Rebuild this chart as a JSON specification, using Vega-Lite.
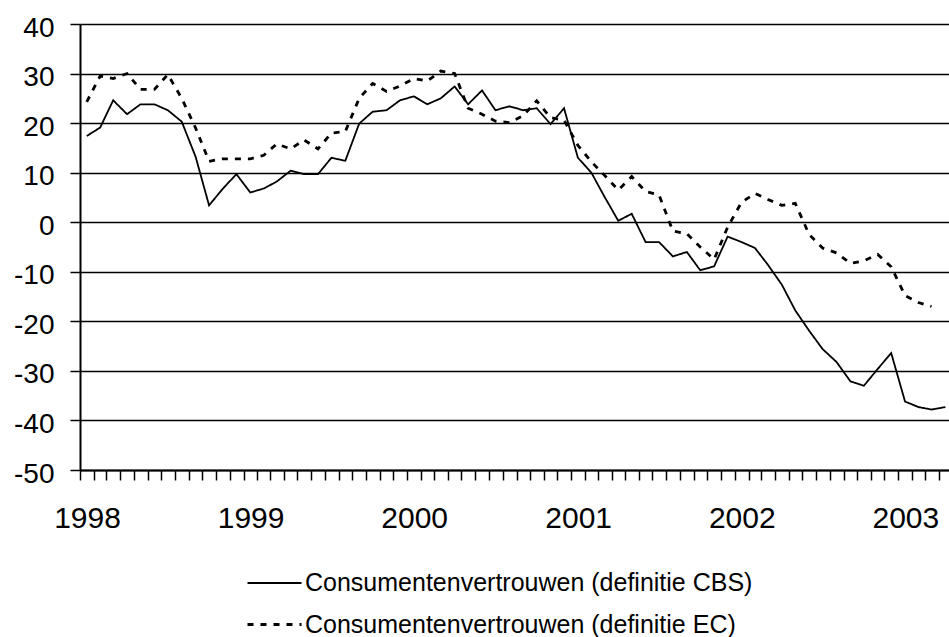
{
  "$schema": "https://vega.github.io/schema/vega-lite/v6.json",
  "width": 869,
  "height": 446,
  "autosize": "none",
  "padding": {"left": 80, "top": 24, "right": 0, "bottom": 167},
  "background": "white",
  "config": {"view": {"stroke": null}, "font": "Liberation Sans"},
  "data": {"values": [
    {"date": "1998-01-16", "CBS": 17.4, "EC": 24.3},
    {"date": "1998-02-15", "CBS": 19.1, "EC": 29.5},
    {"date": "1998-03-16", "CBS": 24.6, "EC": 29.0},
    {"date": "1998-04-16", "CBS": 21.8, "EC": 30.0},
    {"date": "1998-05-16", "CBS": 23.8, "EC": 26.8},
    {"date": "1998-06-16", "CBS": 23.8, "EC": 26.8},
    {"date": "1998-07-16", "CBS": 22.6, "EC": 29.8},
    {"date": "1998-08-16", "CBS": 20.3, "EC": 25.0},
    {"date": "1998-09-16", "CBS": 13.2, "EC": 19.0},
    {"date": "1998-10-16", "CBS": 3.4, "EC": 12.3},
    {"date": "1998-11-16", "CBS": 6.8, "EC": 12.8},
    {"date": "1998-12-16", "CBS": 9.7, "EC": 12.8},
    {"date": "1999-01-16", "CBS": 6.0, "EC": 12.8},
    {"date": "1999-02-15", "CBS": 6.8, "EC": 13.5},
    {"date": "1999-03-16", "CBS": 8.2, "EC": 15.8},
    {"date": "1999-04-16", "CBS": 10.4, "EC": 14.8},
    {"date": "1999-05-16", "CBS": 9.7, "EC": 16.6},
    {"date": "1999-06-16", "CBS": 9.7, "EC": 14.8},
    {"date": "1999-07-16", "CBS": 13.0, "EC": 18.0},
    {"date": "1999-08-16", "CBS": 12.4, "EC": 18.3},
    {"date": "1999-09-16", "CBS": 19.9, "EC": 25.0},
    {"date": "1999-10-16", "CBS": 22.3, "EC": 28.0},
    {"date": "1999-11-16", "CBS": 22.6, "EC": 26.4},
    {"date": "1999-12-16", "CBS": 24.6, "EC": 27.5},
    {"date": "2000-01-16", "CBS": 25.4, "EC": 29.0},
    {"date": "2000-02-15", "CBS": 23.8, "EC": 28.5},
    {"date": "2000-03-16", "CBS": 25.0, "EC": 30.5},
    {"date": "2000-04-16", "CBS": 27.4, "EC": 30.0},
    {"date": "2000-05-16", "CBS": 23.8, "EC": 23.0},
    {"date": "2000-06-16", "CBS": 26.6, "EC": 21.8},
    {"date": "2000-07-16", "CBS": 22.6, "EC": 20.4},
    {"date": "2000-08-16", "CBS": 23.4, "EC": 20.1},
    {"date": "2000-09-16", "CBS": 22.6, "EC": 21.5},
    {"date": "2000-10-16", "CBS": 23.0, "EC": 24.5},
    {"date": "2000-11-16", "CBS": 19.8, "EC": 21.1},
    {"date": "2000-12-16", "CBS": 23.0, "EC": 20.6},
    {"date": "2001-01-16", "CBS": 13.0, "EC": 15.5},
    {"date": "2001-02-15", "CBS": 10.0, "EC": 12.2},
    {"date": "2001-03-16", "CBS": 5.2, "EC": 9.5},
    {"date": "2001-04-16", "CBS": 0.3, "EC": 6.5},
    {"date": "2001-05-16", "CBS": 1.7, "EC": 9.2},
    {"date": "2001-06-16", "CBS": -4.0, "EC": 6.2},
    {"date": "2001-07-16", "CBS": -4.0, "EC": 5.5},
    {"date": "2001-08-16", "CBS": -6.9, "EC": -1.8},
    {"date": "2001-09-16", "CBS": -6.0, "EC": -2.3},
    {"date": "2001-10-16", "CBS": -9.7, "EC": -5.0},
    {"date": "2001-11-16", "CBS": -8.9, "EC": -7.5},
    {"date": "2001-12-16", "CBS": -2.9, "EC": -1.0},
    {"date": "2002-01-16", "CBS": -4.0, "EC": 4.0},
    {"date": "2002-02-15", "CBS": -5.2, "EC": 5.8},
    {"date": "2002-03-16", "CBS": -8.6, "EC": 4.6},
    {"date": "2002-04-16", "CBS": -12.6, "EC": 3.4},
    {"date": "2002-05-16", "CBS": -17.8, "EC": 3.8},
    {"date": "2002-06-16", "CBS": -21.9, "EC": -2.5},
    {"date": "2002-07-16", "CBS": -25.6, "EC": -5.2},
    {"date": "2002-08-16", "CBS": -28.2, "EC": -6.2},
    {"date": "2002-09-16", "CBS": -32.1, "EC": -8.3},
    {"date": "2002-10-16", "CBS": -33.0, "EC": -7.8},
    {"date": "2002-11-16", "CBS": -29.6, "EC": -6.5},
    {"date": "2002-12-16", "CBS": -26.4, "EC": -9.0},
    {"date": "2003-01-16", "CBS": -36.2, "EC": -14.8},
    {"date": "2003-02-15", "CBS": -37.3, "EC": -16.2},
    {"date": "2003-03-16", "CBS": -37.8, "EC": -17.0},
    {"date": "2003-04-16", "CBS": -37.3, "EC": null}
  ]},
  "transform": [{"fold": ["CBS", "EC"], "as": ["series", "value"]}],
  "mark": {"type": "line", "color": "black", "clip": true},
  "encoding": {
    "x": {
      "field": "date", "type": "temporal",
      "scale": {"type": "utc", "nice": false, "domain": [{"year": 1998, "month": 1, "date": 1, "utc": true}, {"year": 2003, "month": 4, "date": 24, "utc": true}]},
      "axis": {
        "title": null, "grid": false,
        "tickCount": {"interval": "month", "step": 1},
        "labelExpr": "utcmonth(datum.value) == 0 ? utcFormat(datum.value, '%Y') : ''",
        "labelOffset": 7, "labelFlush": false, "labelOverlap": false, "labelBound": false,
        "labelFontSize": 30, "labelColor": "black", "labelPadding": 23,
        "tickSize": 10, "tickColor": "black", "tickWidth": 1.5,
        "domainColor": "black", "domainWidth": 2
      }
    },
    "y": {
      "field": "value", "type": "quantitative",
      "scale": {"domain": [-50, 40], "nice": false},
      "axis": {
        "title": null, "values": [-50, -40, -30, -20, -10, 0, 10, 20, 30, 40],
        "labelExpr": "toString(datum.value)",
        "grid": true, "gridColor": "black", "gridWidth": 1.5, "gridOpacity": 1,
        "tickSize": 10, "tickColor": "black", "tickWidth": 1.5,
        "domainColor": "black", "domainWidth": 2,
        "labelFontSize": 28, "labelColor": "black", "labelPadding": 16, "labelOffset": 4
      }
    },
    "strokeDash": {
      "field": "series", "type": "nominal",
      "scale": {"domain": ["CBS", "EC"], "range": [[1, 0], [6, 7]]},
      "legend": {
        "title": null, "orient": "none", "legendX": 166, "legendY": 531, "padding": 0,
        "symbolType": "stroke", "symbolSize": 2916, "symbolStrokeColor": "black",
        "labelFontSize": 25, "labelColor": "black", "labelOffset": 2, "rowPadding": 0, "labelLimit": 0,
        "labelExpr": "'Consumentenvertrouwen (definitie ' + datum.label + ')'"
      }
    },
    "strokeWidth": {
      "field": "series", "type": "nominal",
      "scale": {"domain": ["CBS", "EC"], "range": [1.8, 2.8]},
      "legend": {
        "title": null, "orient": "none", "legendX": 166, "legendY": 531, "padding": 0,
        "symbolType": "stroke", "symbolSize": 2916, "symbolStrokeColor": "black",
        "labelFontSize": 25, "labelColor": "black", "labelOffset": 2, "rowPadding": 0, "labelLimit": 0,
        "labelExpr": "'Consumentenvertrouwen (definitie ' + datum.label + ')'"
      }
    }
  }
}
